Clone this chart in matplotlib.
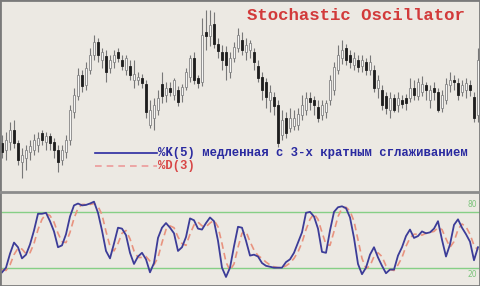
import matplotlib
matplotlib.use("Agg")
import matplotlib.pyplot as plt
from matplotlib.patches import Rectangle
from matplotlib.lines import Line2D

# ---------------- data ----------------
opens = [47, 40, 48, 60, 47, 28, 32, 38, 40, 45, 57, 48, 54, 48, 40, 30, 38, 50, 78, 94,
         115, 105, 120, 135, 148, 130, 134, 122, 128, 138, 130, 120, 124, 110, 110, 112, 106, 65, 72, 80,
         106, 95, 102, 95, 100, 95, 103, 113, 132, 112, 108, 158, 154, 166, 146, 138, 138, 118, 132, 142,
         150, 138, 140, 138, 124, 113, 108, 90, 93, 85, 55, 72, 62, 64, 65, 75, 80, 92, 90, 83,
         75, 78, 90, 100, 120, 132, 142, 135, 125, 130, 124, 128, 120, 120, 102, 100, 94, 80, 92, 85,
         90, 92, 92, 102, 94, 98, 105, 90, 102, 98, 82, 90, 105, 110, 107, 98, 100, 105, 93, 75]
closes = [38, 50, 60, 47, 30, 35, 40, 44, 50, 52, 50, 54, 47, 40, 28, 40, 50, 80, 95, 115,
          104, 122, 135, 148, 135, 138, 118, 130, 135, 132, 124, 132, 115, 116, 113, 107, 78, 80, 85, 92,
          94, 102, 98, 110, 88, 103, 118, 132, 110, 107, 155, 154, 165, 146, 139, 130, 125, 132, 143, 155,
          140, 145, 147, 128, 112, 100, 93, 98, 84, 47, 70, 57, 72, 72, 76, 85, 92, 88, 85, 72,
          85, 87, 110, 123, 135, 140, 130, 128, 132, 123, 130, 120, 128, 102, 110, 85, 82, 92, 80, 92,
          86, 87, 102, 95, 108, 106, 100, 100, 98, 80, 95, 106, 110, 108, 95, 105, 107, 100, 72, 130]
highs = [55, 58, 68, 70, 50, 42, 45, 50, 56, 58, 60, 58, 57, 52, 45, 45, 55, 85, 102, 122,
         120, 128, 142, 155, 152, 142, 140, 135, 140, 142, 135, 135, 130, 130, 118, 116, 110, 90, 92, 100,
         118, 108, 108, 112, 104, 106, 122, 135, 138, 115, 172, 180, 180, 178, 152, 145, 144, 138, 148, 162,
         158, 152, 150, 142, 130, 118, 112, 105, 98, 90, 80, 78, 82, 80, 82, 95, 98, 98, 94, 90,
         90, 90, 115, 128, 145, 150, 146, 140, 138, 135, 135, 132, 135, 125, 115, 105, 98, 98, 96, 98,
         95, 96, 112, 110, 112, 114, 108, 105, 108, 102, 100, 112, 118, 115, 112, 110, 112, 110, 98, 142]
lows = [32, 30, 40, 42, 25, 12, 20, 30, 35, 38, 45, 40, 40, 32, 18, 25, 32, 45, 72, 90,
        98, 100, 116, 130, 128, 122, 108, 117, 122, 128, 120, 115, 110, 102, 105, 102, 72, 62, 60, 75,
        87, 88, 94, 90, 84, 88, 100, 108, 106, 102, 104, 140, 144, 142, 132, 120, 110, 112, 128, 138,
        135, 130, 132, 120, 108, 90, 82, 78, 75, 43, 50, 52, 58, 60, 60, 70, 75, 80, 75, 68,
        70, 72, 85, 95, 116, 126, 125, 122, 120, 118, 118, 115, 115, 98, 92, 80, 76, 72, 78, 78,
        82, 80, 88, 90, 90, 94, 90, 82, 90, 78, 78, 86, 98, 100, 90, 94, 92, 94, 68, 68]

k_values = [15, 20, 35, 47, 42, 30, 34, 45, 60, 78, 78, 79, 70, 59, 42, 44, 56, 75, 87, 89,
            87, 87.5, 89, 91, 79, 60, 38, 30, 46, 63, 62, 55, 36, 24, 32, 36, 29, 15, 25, 52,
            63, 68, 63, 57, 38, 42, 53, 73, 71, 62, 61, 68, 74, 70, 49, 20, 10, 20, 43, 64,
            63, 49, 33, 34, 32, 25, 22, 21, 20, 20, 20, 26, 29, 36, 47, 58, 79, 80, 75, 62,
            37, 36, 60, 80, 85, 86, 84, 74, 52, 24, 13, 20, 34, 42, 31, 22, 14, 18, 18, 33,
            42, 54, 61, 52, 54, 59, 57, 58, 62, 70, 50, 32, 45, 66, 72, 63, 56, 48, 28, 42]
d_values = [18, 17, 23, 34, 41, 40, 35, 36, 46, 61, 72, 78, 76, 69, 57, 48, 47, 58, 73, 84,
            88, 88, 88, 89, 86, 77, 59, 43, 38, 46, 57, 60, 51, 38, 31, 31, 32, 27, 23, 31,
            47, 61, 65, 63, 53, 46, 44, 56, 66, 69, 65, 64, 68, 71, 64, 46, 26, 17, 24, 42,
            57, 59, 48, 39, 33, 30, 26, 23, 21, 20, 20, 22, 25, 30, 37, 47, 61, 72, 78, 72,
            58, 45, 44, 59, 75, 84, 85, 81, 70, 50, 30, 19, 22, 32, 36, 32, 22, 18, 17, 23,
            31, 43, 52, 56, 56, 55, 57, 58, 59, 63, 61, 51, 42, 48, 61, 67, 64, 56, 44, 39]

title = "Stochastic Oscillator"
k_label = "%K(5) медленная с 3-х кратным сглаживанием"
d_label = "%D(3)"
levels = [80, 20]
level_labels = ["80", "20"]

# ---------------- style ----------------
BG = "#ECE9E3"
W, H = 480, 286
fig = plt.figure(figsize=(W / 100, H / 100), dpi=100, facecolor=BG)

n = len(opens)
ax = fig.add_axes([0, 96 / H, 1, 190 / H])
ax.set_facecolor(BG)
for i in range(n):
    o, c, hi, lo = opens[i], closes[i], highs[i], lows[i]
    ax.vlines(i, lo, hi, color="#787878", lw=0.8, zorder=2)
    bottom = min(o, c)
    height = max(abs(c - o), 0.8)
    if c >= o:
        ax.add_patch(Rectangle((i - 0.32, bottom), 0.64, height, facecolor="#f6f6f4",
                               edgecolor="#858585", lw=0.6, zorder=3))
    else:
        ax.add_patch(Rectangle((i - 0.32, bottom), 0.64, height, facecolor="#1e1e1e",
                               edgecolor="#1e1e1e", lw=0.6, zorder=3))
ax.set_xlim(-0.5, n - 0.5)
ax.set_ylim(0, 190)
ax.axis("off")

mono = ["Liberation Mono", "DejaVu Sans Mono"]
fig.text(247 / W, 1 - 15 / H, title, family=mono, weight="bold", fontsize=12.5,
         color="#d23a3a", va="center", ha="left")

fig.add_artist(Line2D([95 / W, 157 / W], [1 - 153 / H] * 2, color="#2a2aa0", lw=1.2))
fig.add_artist(Line2D([95 / W, 157 / W], [1 - 165.5 / H] * 2, color="#ec9a9a", lw=1.2,
                      ls=(0, (4, 3))))
fig.text(158 / W, 1 - 153 / H, k_label, family=mono, weight="bold", fontsize=8.8,
         color="#2a2aa0", va="center", ha="left")
fig.text(158 / W, 1 - 165.5 / H, d_label, family=mono, weight="bold", fontsize=8.8,
         color="#d84545", va="center", ha="left")

# separator
fig.add_artist(Line2D([0, 1], [1 - 191.5 / H] * 2, color="#8c8c8c", lw=2.0))

ax2 = fig.add_axes([0, 0, 1, 94 / H])
ax2.set_facecolor(BG)
xs = list(range(n))
for lv in levels:
    ax2.axhline(lv, color="#86cf86", lw=1.0, zorder=1)
ax2.plot(xs, d_values, color="#e8937f", lw=1.2, ls=(0, (4, 2.5)), zorder=2)
ax2.plot(xs, k_values, color="#3c3c98", lw=1.3, zorder=3)
ax2.text(n - 1.2, levels[0] + 3, level_labels[0], color="#7cc47c", fontsize=5.5,
         ha="right", va="bottom")
ax2.text(n - 1.2, levels[1] - 3, level_labels[1], color="#7cc47c", fontsize=5.5,
         ha="right", va="top")
ax2.set_xlim(-0.5, n - 0.5)
ax2.set_ylim(0.3, 101.4)
ax2.axis("off")

# outer frame
fig.add_artist(Rectangle((0, 0), 1, 1, transform=fig.transFigure, fill=False,
                         edgecolor="#7a7a7a", lw=2.0))

fig.savefig("out.png", dpi=100, facecolor=BG)
